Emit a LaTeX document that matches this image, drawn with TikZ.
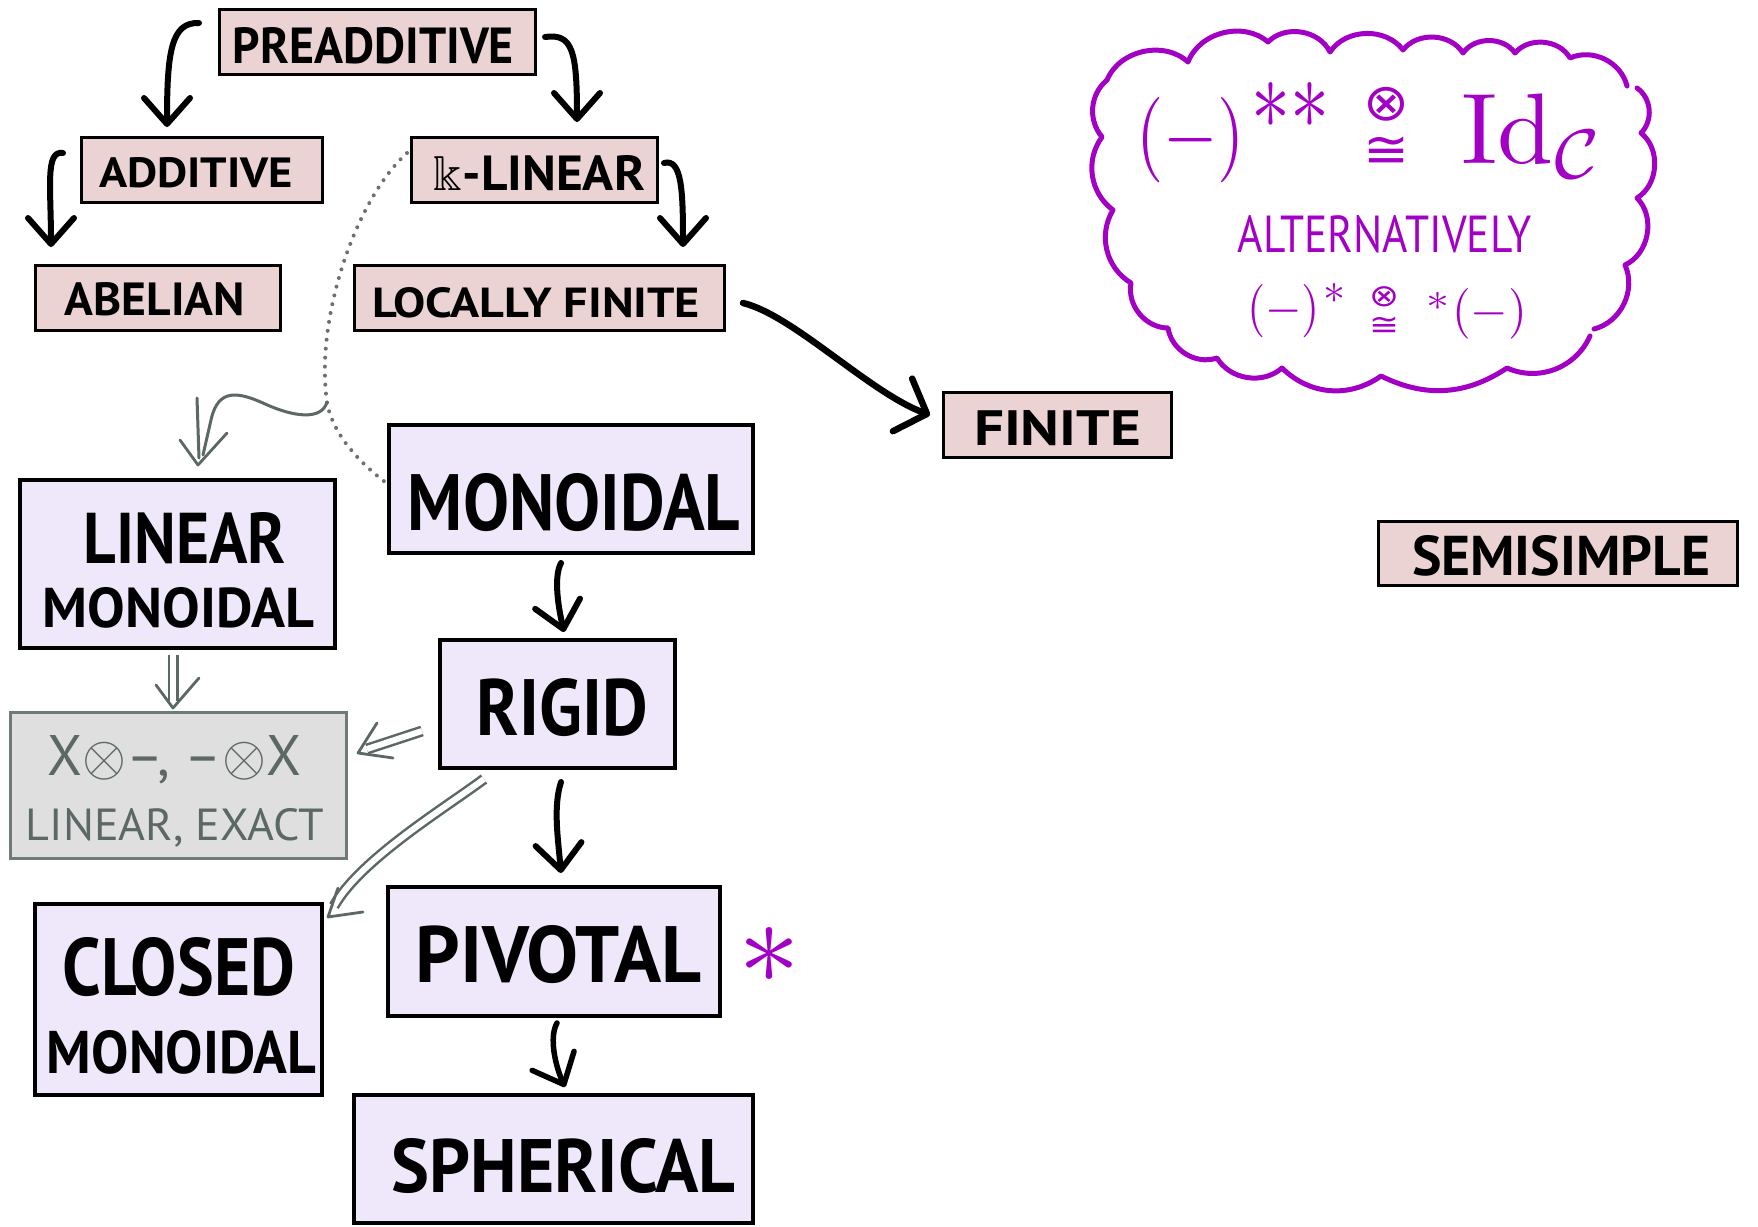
\documentclass[tikz,border=0pt]{standalone}
\usepackage{amsmath,amssymb}
\usepackage{graphicx}
\usepackage[no-math]{fontspec}
\setmainfont{PT Sans}
\newfontfamily\symfont{DejaVu Sans}
\usetikzlibrary{arrows.meta,calc}

\definecolor{pinkfill}{RGB}{235,211,211}
\definecolor{lavfill}{RGB}{239,231,250}
\definecolor{grayfill}{RGB}{224,223,224}
\definecolor{grayline}{RGB}{112,122,119}
\definecolor{grayarrow}{RGB}{92,104,101}
\definecolor{dotgray}{RGB}{110,112,112}
\definecolor{purp}{RGB}{163,0,197}

% scale a piece of text to a given ink width and cap height (in pt)
\newcommand{\fitbox}[3]{\resizebox{#1pt}{#2pt}{#3}}
% scale a piece of text to a given width, keeping its proportions
\newcommand{\widebox}[2]{\resizebox{#1pt}{!}{#2}}
% monoidal isomorphism sign: a tensor mark stacked over a congruence sign
\newcommand{\tensoriso}{{\symfont\shortstack{⊗\\≅}}}

\tikzset{
  box/.style={rectangle, draw=black, inner sep=0pt, outer sep=0pt},
  pinkbox/.style={box, fill=pinkfill, line width=3pt},
  lavbox/.style={box, fill=lavfill, line width=3.5pt},
  graybox/.style={box, fill=grayfill, draw=grayline, line width=3pt},
  lbl/.style={inner sep=0pt, outer sep=0pt, anchor=base, font=\bfseries},
  glbl/.style={inner sep=0pt, outer sep=0pt, anchor=base, text=grayarrow},
  plbl/.style={inner sep=0pt, outer sep=0pt, text=purp},
  inkarrow/.style={line width=6pt, line cap=round,
    -{Straight Barb[length=26pt, width=46pt, round]}},
  bigarrow/.style={inkarrow, line width=6.5pt,
    -{Straight Barb[length=26pt, width=56pt, round]}},
  gdouble/.style={draw=grayarrow, line width=2.5pt, double=white, double distance=6pt},
  gline/.style={draw=grayarrow, line width=3pt, line cap=round, line join=round},
  ghead/.style={draw=grayarrow, line width=2.8pt, line cap=round, line join=round},
  dotline/.style={draw=dotgray, line width=4pt, line cap=round, dash pattern=on 0pt off 9pt},
  cloudline/.style={draw=purp, line width=5pt, line cap=round, line join=round},
}

\begin{document}
\begin{tikzpicture}[x=1pt, y=1pt]
\useasboundingbox (0,0) rectangle (1758,-1226);
\fill[white] (0,0) rectangle (1758,-1226);

% ---------- category boxes ----------
\node[pinkbox, minimum width=316pt, minimum height=65pt] (pre) at (377,-41.5) {};
\node[lbl] (pre-t) at (373.5,-63) {\fitbox{281}{36}{PREADDITIVE}};

\node[pinkbox, minimum width=241pt, minimum height=65pt] (add) at (201.5,-169.5) {};
\node[lbl] (add-t) at (196,-187) {\fitbox{194}{30}{ADDITIVE}};

\node[pinkbox, minimum width=246pt, minimum height=65pt] (klin) at (534,-169.5) {};
\node[lbl] (klin-t) at (539.5,-190) {\fitbox{211}{35}{$\Bbbk$-LINEAR}};

\node[pinkbox, minimum width=245pt, minimum height=65pt] (abel) at (157.5,-297.5) {};
\node[lbl] (abel-t) at (155,-315) {\fitbox{180}{33}{ABELIAN}};

\node[pinkbox, minimum width=370pt, minimum height=65pt] (locfin) at (539,-297.5) {};
\node[lbl] (locfin-t) at (536.5,-317) {\fitbox{327}{30}{LOCALLY FINITE}};

\node[pinkbox, minimum width=228pt, minimum height=65pt] (finite) at (1057,-424.5) {};
\node[lbl] (finite-t) at (1057.5,-445) {\fitbox{167}{35}{FINITE}};

\node[pinkbox, minimum width=359pt, minimum height=64pt] (semis) at (1557.5,-553) {};
\node[lbl] (semis-t) at (1561,-575) {\fitbox{298}{40}{SEMISIMPLE}};

\node[lavbox, minimum width=364pt, minimum height=128pt] (mono) at (571,-489) {};
\node[lbl] (mono-t) at (574,-530) {\fitbox{332}{57}{MONOIDAL}};

\node[lavbox, minimum width=315pt, minimum height=168pt] (linmono) at (177.5,-564) {};
\node[lbl] (linmono-t1) at (185,-563) {\fitbox{202}{51}{LINEAR}};
\node[lbl] (linmono-t2) at (178.5,-627) {\fitbox{271}{40}{MONOIDAL}};

\node[lavbox, minimum width=235pt, minimum height=128pt] (rigid) at (557.5,-704) {};
\node[lbl] (rigid-t) at (562.5,-735) {\fitbox{171}{57}{RIGID}};

\node[graybox, minimum width=336pt, minimum height=146pt] (xbox) at (178,-785) {};
\node[glbl] (xbox-t1) at (174.5,-775) {\fitbox{253}{40}{X$\otimes$–, –$\otimes$X}};
\node[glbl] (xbox-t2) at (175,-840) {\fitbox{298}{32}{LINEAR, EXACT}};

\node[lavbox, minimum width=332pt, minimum height=129pt] (pivotal) at (554,-951.5) {};
\node[lbl] (pivotal-t) at (558.5,-982) {\fitbox{285}{57}{PIVOTAL}};

\node[lavbox, minimum width=287pt, minimum height=191pt] (closed) at (178.5,-999.5) {};
\node[lbl] (closed-t1) at (179,-995) {\fitbox{232}{58}{CLOSED}};
\node[lbl] (closed-t2) at (181.5,-1073) {\fitbox{269}{43}{MONOIDAL}};

\node[lavbox, minimum width=399pt, minimum height=128pt] (spher) at (553.5,-1159) {};
\node[lbl] (spher-t) at (563.5,-1192) {\fitbox{343}{54}{SPHERICAL}};

% purple mark next to PIVOTAL
\node[plbl] (star) at (769,-955) {\fitbox{62}{56}{$\ast$}};

% ---------- black implication arrows ----------
\draw[inkarrow] ($(pre.west)+(-20,18.5)$) .. controls +(-28,1) and +(0,75) .. ($(add.north)+(-34.5,10)$);
\draw[inkarrow] ($(pre.east)+(10,4.5)$) .. controls +(28,4) and +(0,70) .. ($(klin.north)+(43,15)$);
\draw[inkarrow] ($(add.west)+(-18,16.5)$) .. controls +(-18,3) and +(0,60) .. ($(abel.north)+(-106.5,18)$);
\draw[inkarrow] ($(klin.east)+(7,6.5)$) .. controls +(18,5) and +(0,55) .. ($(locfin.north)+(144,18)$);
\draw[bigarrow] ($(locfin.east)+(19,-5.5)$) .. controls +(50,-12) and +(-60,22) .. ($(finite.west)+(-13,9.5)$);
\draw[inkarrow] ($(mono.south)+(-10,-10)$) .. controls +(-8,-15) and +(-5,22) .. ($(rigid.north)+(6.5,8)$);
\draw[inkarrow] ($(rigid.south)+(3.5,-14)$) .. controls +(-8,-25) and +(-3,35) .. ($(pivotal.north)+(7,14)$);
\draw[inkarrow, line width=5.5pt] ($(pivotal.south)+(3,-7)$) .. controls +(-8,-14) and +(-10,22) .. ($(spher.north)+(11.5,8)$);

% ---------- dotted link from k-linear to monoidal ----------
\coordinate (fork) at ($(linmono.north east)+(-8,78)$);
\draw[dotline] ($(klin.west)+(-4,16.5)$) .. controls +(-52,-47) and +(-12,82) .. (fork)
  .. controls +(4,-25) and +(-35,27) .. ($(mono.west)+(-4,7)$);

% ---------- grey double arrows ----------
% wavy arrow from the dotted link down to LINEAR MONOIDAL
\draw[gline] (fork) .. controls +(-5,-18) and +(32,-15) .. ($(linmono.north)+(85.5,77)$)
  .. controls +(-25,11) and +(7,32) .. ($(linmono.north)+(33.5,60)$) -- ($(linmono.north)+(25.5,25)$);
\draw[gline] ($(linmono.north)+(19.5,82)$) -- ($(linmono.north)+(21.5,22)$);
\draw[ghead] ($(linmono.north)+(2.5,40)$) -- ($(linmono.north)+(20.5,15)$) -- ($(linmono.north)+(49.5,47)$);

% LINEAR MONOIDAL => tensor box
\draw[gdouble] ($(linmono.south)+(-4.5,-7)$) -- ($(linmono.south)+(-4.5,-53)$);
\draw[ghead] ($(linmono.south)+(-21.5,-37)$) -- ($(linmono.south)+(-4.5,-60)$) -- ($(linmono.south)+(21.5,-30)$);

% RIGID => tensor box
\draw[gdouble] ($(rigid.west)+(-18,-27)$) -- ($(rigid.west)+(-73,-45)$);
\draw[ghead] ($(rigid.west)+(-63,-19)$) -- ($(rigid.west)+(-82,-49)$) -- ($(rigid.west)+(-47,-54)$);

% RIGID => CLOSED MONOIDAL
\draw[gdouble] ($(rigid.south west)+(44,-11)$) .. controls +(-42,-31) and +(26,46) .. ($(closed.north east)+(12,-2)$);
\draw[ghead] ($(closed.north east)+(16,16)$) -- ($(closed.north east)+(6,-13)$) -- ($(closed.north east)+(41,-8)$);

% ---------- thought cloud ----------
\draw[cloudline]
  (1107,-80) to[bend left=55] (1188,-62) to[bend left=55] (1268,-42)
  to[bend left=55] (1330,-52) to[bend left=55] (1403,-50) to[bend left=55] (1463,-53)
  to[bend left=55] (1515,-53) to[bend left=55] (1570,-58) to[bend left=50] (1627,-86);
\draw[cloudline]
  (1637,-88) to[bend left=50] (1641,-133) to[bend left=55] (1637,-198)
  to[bend left=55] (1625,-265) to[bend left=50] (1594,-329);
\draw[cloudline]
  (1590,-336) to[bend left=45] (1507,-368) to[bend left=30] (1381,-376)
  to[bend left=40] (1282,-368) to[bend left=50] (1217,-358) to[bend left=50] (1168,-328)
  to[bend left=50] (1131,-283) to[bend left=45] (1113,-210) to[bend left=45] (1102,-137)
  to[bend left=45] (1107,-80);

% first identity
\node[plbl] (c1a) at (1190.5,-140) {\fitbox{109}{64}{$(-)$}};
\node[plbl] (c1b) at (1290,-105) {\fitbox{78}{46}{$\ast\ast$}};
\node[plbl] (c1c) at (1386,-127) {\fitbox{46}{80}{\tensoriso}};
\node[plbl, anchor=base west] (c1e) at (1461,-163) {\widebox{144}{$\mathrm{Id}_{\mathcal{C}}$}};

% alternative identity
\node[plbl, anchor=base] (alt) at (1385,-252) {\fitbox{294}{37}{ALTERNATIVELY}};
\node[plbl] (c2a) at (1283.5,-311) {\fitbox{73}{40}{$(-)$}};
\node[plbl] (c2b) at (1334,-293) {\fitbox{22}{20}{$\ast$}};
\node[plbl] (c2c) at (1384,-311) {\fitbox{30}{48}{\tensoriso}};
\node[plbl] (c2e) at (1438,-301) {\fitbox{23}{18}{$\ast$}};
\node[plbl] (c2f) at (1489.5,-314) {\fitbox{75}{38}{$(-)$}};
\end{tikzpicture}
\end{document}
